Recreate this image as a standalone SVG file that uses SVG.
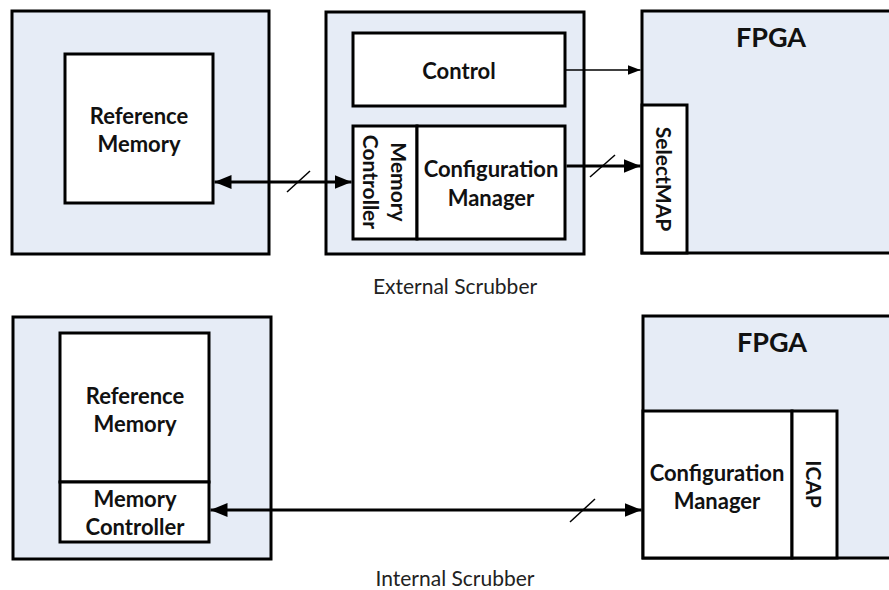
<svg xmlns="http://www.w3.org/2000/svg" width="889" height="590" viewBox="0 0 889 590">
  <style>
    .panel { fill: #E6ECF6; stroke: #000; stroke-width: 3; }
    .block { fill: #FFFFFF; stroke: #000; stroke-width: 3; }
    .lbl { font-family: Lato, "Liberation Sans", sans-serif; font-weight: bold; font-size: 22px; fill: #111; text-anchor: middle; dominant-baseline: central; }
    .vlbl { font-family: Lato, "Liberation Sans", sans-serif; font-weight: bold; font-size: 21px; fill: #111; text-anchor: middle; dominant-baseline: central; }
    .big { font-family: Lato, "Liberation Sans", sans-serif; font-weight: bold; font-size: 27px; fill: #111; text-anchor: middle; dominant-baseline: central; }
    .cap { font-family: Lato, "Liberation Sans", sans-serif; font-size: 21px; fill: #222; text-anchor: middle; dominant-baseline: central; }
    .bus { stroke: #000; stroke-width: 3; fill: none; }
    .sig { stroke: #000; stroke-width: 1.5; fill: none; }
    .tick { stroke: #000; stroke-width: 1.5; fill: none; }
  </style>
  <defs>
    <marker id="head" markerUnits="userSpaceOnUse" markerWidth="17" markerHeight="14" refX="17" refY="7" orient="auto-start-reverse">
      <path d="M0,0 L17,7 L0,14 Z" fill="#000"/>
    </marker>
    <marker id="headSmall" markerUnits="userSpaceOnUse" markerWidth="13" markerHeight="10" refX="13" refY="5" orient="auto">
      <path d="M0,0 L13,5 L0,10 Z" fill="#000"/>
    </marker>
  </defs>

  <!-- External scrubber arrangement -->
  <g id="ext-memory-board">
    <rect class="panel" x="12" y="11" width="257" height="243"/>
  </g>
  <g id="ext-reference-memory">
    <rect class="block" x="65" y="54" width="148" height="149"/>
    <text class="lbl" x="139" y="115">Reference</text>
    <text class="lbl" x="139" y="143">Memory</text>
  </g>

  <g id="ext-scrubber">
    <rect class="panel" x="326" y="12" width="258" height="242"/>
  </g>
  <g id="ext-control">
    <rect class="block" x="353" y="33" width="212" height="73"/>
    <text class="lbl" x="459" y="70">Control</text>
  </g>
  <g id="ext-memory-controller">
    <rect class="block" x="353" y="126" width="64" height="113"/>
    <g transform="translate(385,182) rotate(90)">
      <text class="vlbl" x="0" y="-14">Memory</text>
      <text class="vlbl" x="0" y="14">Controller</text>
    </g>
  </g>
  <g id="ext-config-manager">
    <rect class="block" x="417" y="126" width="148" height="113"/>
    <text class="lbl" x="491" y="168">Configuration</text>
    <text class="lbl" x="491" y="197">Manager</text>
  </g>

  <g id="ext-fpga">
    <rect class="panel" x="642" y="11" width="260" height="242"/>
    <text class="big" x="771" y="36">FPGA</text>
  </g>
  <g id="ext-selectmap">
    <rect class="block" x="642" y="105" width="45" height="148"/>
    <text class="vlbl" transform="translate(664,179) rotate(90)" x="0" y="0">SelectMAP</text>
  </g>

  <text class="cap" x="455" y="285">External Scrubber</text>

  <!-- Internal scrubber arrangement -->
  <g id="int-memory-board">
    <rect class="panel" x="13" y="317" width="258" height="242"/>
  </g>
  <g id="int-reference-memory">
    <rect class="block" x="60" y="333" width="149" height="149"/>
    <text class="lbl" x="135" y="395">Reference</text>
    <text class="lbl" x="135" y="423">Memory</text>
  </g>
  <g id="int-memory-controller">
    <rect class="block" x="60" y="482" width="149" height="60"/>
    <text class="lbl" x="135" y="498">Memory</text>
    <text class="lbl" x="135" y="526">Controller</text>
  </g>

  <g id="int-fpga">
    <rect class="panel" x="643" y="316" width="260" height="242"/>
    <text class="big" x="772" y="341">FPGA</text>
  </g>
  <g id="int-config-manager">
    <rect class="block" x="643" y="411" width="149" height="147"/>
    <text class="lbl" x="717" y="472">Configuration</text>
    <text class="lbl" x="717" y="500">Manager</text>
  </g>
  <g id="int-icap">
    <rect class="block" x="792" y="411" width="45" height="147"/>
    <text class="vlbl" transform="translate(814,484) rotate(90)" x="0" y="0">ICAP</text>
  </g>

  <text class="cap" x="455" y="577">Internal Scrubber</text>

  <!-- Connectors -->
  <g id="connectors">
    <line class="bus" x1="214.5" y1="182" x2="351.5" y2="182" marker-start="url(#head)" marker-end="url(#head)"/>
    <line class="tick" x1="287" y1="192" x2="310" y2="171"/>

    <line class="sig" x1="565" y1="70" x2="640.5" y2="70" marker-end="url(#headSmall)"/>

    <line class="bus" x1="566.5" y1="166" x2="640.5" y2="166" marker-end="url(#head)"/>
    <line class="tick" x1="590" y1="177" x2="615" y2="155"/>

    <line class="bus" x1="210.5" y1="510" x2="641.5" y2="510" marker-start="url(#head)" marker-end="url(#head)"/>
    <line class="tick" x1="570" y1="522" x2="595" y2="499"/>
  </g>
</svg>
